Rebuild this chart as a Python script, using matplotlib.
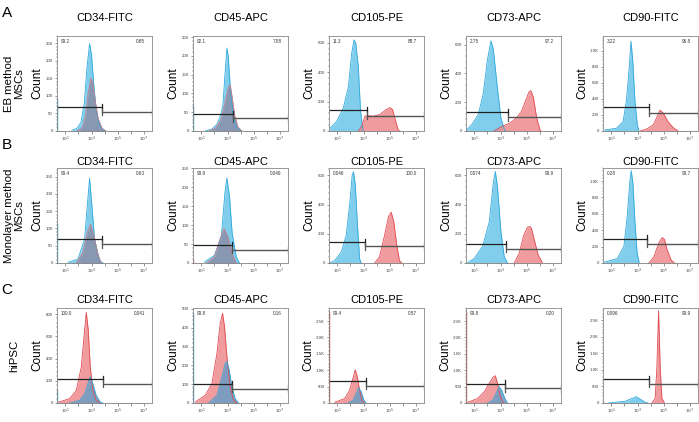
import numpy as np
import matplotlib.pyplot as plt
from matplotlib.ticker import FixedLocator, AutoMinorLocator, LogLocator, NullFormatter

plt.rcParams['font.family'] = ['Liberation Sans', 'DejaVu Sans']

# ---- data (x in log10 units, y in counts) ----
markers = ['CD34-FITC', 'CD45-APC', 'CD105-PE', 'CD73-APC', 'CD90-FITC']
row_names = ['EB method\nMSCs', 'Monolayer method\nMSCs', 'hiPSC']
panel_letters = ['A', 'B', 'C']

# row A - EB method MSCs
blue_x_A = [[1.5, 1.9, 2.2, 2.45, 2.65, 2.85, 3.0, 3.15, 3.35, 3.6, 3.9, 4.1],
            [1.3, 1.8, 2.2, 2.5, 2.65, 2.8, 2.95, 3.05, 3.2, 3.4, 3.6, 3.9, 4.1],
            [0.4, 0.95, 1.46, 1.84, 2.1, 2.27, 2.4, 2.6, 2.77, 2.97],
            [0.4, 0.8, 1.3, 1.68, 2.0, 2.27, 2.45, 2.78, 3.03, 3.3, 3.4],
            [0.5, 1.4, 1.9, 2.15, 2.37, 2.5, 2.63, 2.8, 2.98, 3.1]]
blue_y_A = [[2, 8, 25, 80, 180, 248, 215, 140, 60, 15, 3, 0],
            [0, 5, 18, 45, 70, 150, 221, 200, 120, 50, 15, 3, 0],
            [15, 65, 158, 298, 530, 619, 600, 437, 135, 0],
            [7, 43, 114, 257, 495, 626, 567, 281, 90, 7, 0],
            [13, 34, 119, 374, 800, 1119, 885, 374, 77, 0]]
red_x_A = [[1.9, 2.3, 2.55, 2.75, 2.95, 3.1, 3.3, 3.5, 3.8, 4.1],
           [1.6, 2.1, 2.5, 2.8, 3.05, 3.2, 3.35, 3.55, 3.8, 4.1],
           [2.6, 2.85, 3.1, 3.23, 3.73, 4.24, 4.75, 5.0, 5.2, 5.38, 5.63, 5.75],
           [2.5, 3.1, 3.7, 4.2, 4.6, 4.9, 5.15, 5.3, 5.5, 5.75, 6.0, 6.1],
           [3.2, 3.7, 4.2, 4.5, 4.7, 4.95, 5.3, 5.7, 6.1]]
red_y_A = [[0, 10, 45, 110, 150, 135, 80, 35, 8, 0],
           [0, 8, 30, 75, 115, 123, 90, 40, 10, 0],
           [0, 30, 100, 105, 100, 112, 147, 158, 147, 88, 7, 0],
           [0, 31, 55, 90, 138, 210, 269, 281, 233, 90, 7, 0],
           [0, 26, 77, 183, 260, 226, 119, 43, 0]]

# row B - Monolayer method MSCs
blue_x_B = [[1.2, 1.96, 2.47, 2.67, 2.85, 3.03, 3.23, 3.6, 3.86],
            [1.25, 2.0, 2.52, 2.82, 2.95, 3.15, 3.35, 3.66, 3.91],
            [0.42, 0.8, 1.3, 1.68, 1.94, 2.14, 2.24, 2.37, 2.52, 2.7, 2.82],
            [0.45, 1.0, 1.63, 2.14, 2.44, 2.6, 2.77, 3.03, 3.28, 3.53],
            [0.44, 1.46, 1.96, 2.22, 2.42, 2.52, 2.65, 2.8, 2.97, 3.13]]
blue_y_B = [[2, 11, 69, 164, 245, 164, 69, 7, 0],
            [3, 20, 69, 193, 224, 175, 78, 16, 0],
            [0, 16, 74, 190, 399, 607, 623, 538, 283, 28, 0],
            [0, 31, 114, 281, 543, 626, 519, 210, 43, 0],
            [9, 55, 204, 587, 1013, 1128, 970, 502, 119, 0]]
red_x_B = [[1.84, 2.34, 2.67, 2.92, 3.18, 3.48, 3.73],
           [1.38, 2.0, 2.39, 2.72, 3.03, 3.33, 3.66],
           [3.84, 4.2, 4.6, 4.9, 5.1, 5.3, 5.53, 5.73, 5.91],
           [4.04, 4.42, 4.75, 5.05, 5.23, 5.35, 5.56, 5.86, 6.19],
           [3.86, 4.24, 4.62, 4.87, 5.05, 5.25, 5.56, 5.81]]
red_y_B = [[0, 31, 88, 112, 78, 26, 0],
           [0, 16, 60, 91, 69, 25, 0],
           [0, 39, 190, 318, 348, 283, 121, 16, 0],
           [0, 67, 186, 245, 250, 238, 162, 55, 0],
           [0, 77, 247, 311, 289, 162, 34, 0]]

# row C - hiPSC
blue_x_C = [[1.33, 2.09, 2.47, 2.72, 2.9, 3.1, 3.35, 3.66, 3.86],
            [1.56, 2.19, 2.57, 2.82, 2.95, 3.13, 3.33, 3.58, 3.84],
            [1.81, 2.19, 2.44, 2.62, 2.82, 3.03, 3.2],
            [2.01, 2.39, 2.72, 2.9, 3.08, 3.33, 3.53],
            [0.8, 2.06, 2.57, 2.9, 3.2, 3.58, 3.78]]
blue_y_C = [[0, 24, 84, 174, 235, 174, 69, 9, 0],
            [0, 41, 139, 210, 222, 174, 85, 23, 0],
            [0, 83, 290, 476, 342, 83, 0],
            [0, 83, 344, 500, 396, 135, 0],
            [0, 53, 138, 190, 117, 21, 0]]
red_x_C = [[0.44, 1.33, 1.84, 2.22, 2.47, 2.6, 2.75, 2.9, 3.1, 3.35, 3.73],
           [0.54, 1.3, 1.81, 2.19, 2.44, 2.62, 2.77, 2.95, 3.2, 3.46, 3.71],
           [0.8, 1.56, 1.94, 2.19, 2.37, 2.52, 2.7, 2.87, 3.08],
           [0.49, 1.25, 1.76, 2.14, 2.44, 2.6, 2.77, 2.95, 3.15, 3.28],
           [4.09, 4.34, 4.47, 4.6, 4.72, 4.85, 5.05]]
red_y_C = [[6, 39, 114, 325, 656, 815, 656, 325, 114, 24, 0],
           [5, 41, 103, 263, 423, 477, 406, 246, 85, 14, 0],
           [21, 135, 393, 756, 1015, 807, 393, 83, 0],
           [21, 135, 344, 604, 792, 833, 604, 240, 31, 0],
           [0, 138, 1091, 2786, 1091, 138, 0]]

# pile-up at the left edge of the axis: (colour, height)
edge_A = [('blue', 90), ('blue', 70), (None, 0), (None, 0), (None, 0)]
edge_B = [('blue', 116), ('red', 10), (None, 0), (None, 0), (None, 0)]
edge_C = [('blue', 114), ('blue', 480), ('red', 2800), ('red', 2800), ('blue', 60)]

# gates: (gate position log10, left bar y, right bar y)
gates_A = [(3.81, 68, 54), (3.41, 45, 34), (3.23, 142, 105), (3.53, 131, 95), (3.84, 298, 226)]
gates_B = [(3.81, 69, 54), (3.33, 47, 34), (3.13, 144, 114), (3.43, 131, 95), (3.73, 298, 238)]
gates_C = [(3.86, 217, 175), (3.33, 100, 77), (3.15, 673, 518), (3.35, 590, 445), (3.84, 720, 583)]

pct_A = [('99.2', '0.85'), ('92.1', '7.88'), ('11.3', '88.7'), ('2.75', '97.2'), ('3.22', '96.8')]
pct_B = [('99.4', '0.63'), ('99.9', '0.049'), ('0.046', '100.0'), ('0.074', '99.9'), ('0.28', '99.7')]
pct_C = [('100.0', '0.041'), ('99.8', '0.16'), ('99.4', '0.57'), ('99.8', '0.20'), ('0.096', '99.9')]

ymax_A = [270, 253, 645, 660, 1183]
ymax_B = [275, 250, 650, 650, 1160]
ymax_C = [854, 505, 2900, 2900, 2870]
ystep_A = [50, 50, 200, 200, 200]
ystep_B = [50, 50, 200, 200, 200]
ystep_C = [200, 100, 500, 500, 500]

# ---- styling ----
blue_face, blue_edge = '#72C9EA', '#2FA9DD'
red_face, red_edge = '#EF9093', '#E2494F'
# colour of the overlapping (inner) curve
inner_red_face, inner_red_edge = '#8A93AC', '#C97D8A'
inner_blue_face, inner_blue_edge = '#6F9EC3', '#3AA6D9'
inner_A = ['red', 'red', None, None, None]
inner_B = ['red', 'red', None, None, None]
inner_C = ['blue', 'blue', 'blue', 'blue', None]

W, H = 699, 422
col_left = [57, 193, 329, 466, 603]
row_top = [36, 168, 308]
title_y = [18, 162, 300]
letter_y = [13, 145, 290]
ax_w, ax_h = 95, 95
xlo, xhi = 0.37, 7.6

rows = [
    (blue_x_A, blue_y_A, red_x_A, red_y_A, edge_A, gates_A, pct_A, ymax_A, ystep_A, inner_A),
    (blue_x_B, blue_y_B, red_x_B, red_y_B, edge_B, gates_B, pct_B, ymax_B, ystep_B, inner_B),
    (blue_x_C, blue_y_C, red_x_C, red_y_C, edge_C, gates_C, pct_C, ymax_C, ystep_C, inner_C),
]


def kfmt(v):
    if v >= 1000:
        return '%.1fK' % (v / 1000.)
    return '%d' % v


fig = plt.figure(figsize=(W / 100., H / 100.), dpi=100)

for r, (bx, by, rx, ry, edge, gates, pct, ymax, ystep, inner) in enumerate(rows):
    fig.text(7 / W, 1 - letter_y[r] / H, panel_letters[r], fontsize=11,
             ha='center', va='center')
    fig.text(14 / W, 1 - (row_top[r] + ax_h / 2) / H, row_names[r], fontsize=8.2,
             rotation=90, ha='center', va='center', linespacing=1.05)
    for c in range(5):
        ax = fig.add_axes([col_left[c] / W, 1 - (row_top[r] + ax_h) / H, ax_w / W, ax_h / H])
        fig.text((col_left[c] + ax_w / 2) / W, 1 - title_y[r] / H, markers[c],
                 fontsize=8, ha='center', va='center')

        bxx, rxx = 10 ** np.array(bx[c]), 10 ** np.array(rx[c])
        blue = (bxx, by[c], blue_face, blue_edge)
        red = (rxx, ry[c], red_face, red_edge)
        if inner[c] == 'red':
            order = [blue, (rxx, ry[c], inner_red_face, inner_red_edge)]
        elif inner[c] == 'blue':
            order = [red, (bxx, by[c], inner_blue_face, inner_blue_edge)]
        else:
            order = [blue, red]
        for xx, yy, fc, ec in order:
            ax.fill_between(xx, 0, yy, color=fc, lw=0, alpha=0.9)
            ax.plot(xx, yy, color=ec, lw=0.6)

        ecol, eh = edge[c]
        if ecol:
            ax.vlines(10 ** (xlo + 0.03), 0, eh, color=blue_edge if ecol == 'blue' else red_edge,
                      lw=1.0)

        g, yl, yr = gates[c]
        cap = ymax[c] * 0.035
        ax.plot([10 ** xlo, 10 ** g], [yl, yl], color='#222222', lw=0.9)
        ax.plot([10 ** g, 10 ** g], [yl - cap, yl + cap], color='#222222', lw=0.9)
        ax.plot([10 ** g, 10 ** xhi], [yr, yr], color='#555555', lw=1.0)
        for xe in (10 ** g, 10 ** (xhi - 0.02)):
            ax.plot([xe, xe], [yr - cap, yr + cap], color='#555555', lw=0.9)

        ax.text(0.04, 0.965, pct[c][0], transform=ax.transAxes, fontsize=3.3,
                va='top', ha='left', color='#333333')
        ax.text(0.93, 0.965, pct[c][1], transform=ax.transAxes, fontsize=3.3,
                va='top', ha='right', color='#333333')

        ax.set_xscale('log')
        ax.set_xlim(10 ** xlo, 10 ** xhi)
        ax.set_ylim(0, ymax[c])
        ax.set_xticks([10 ** k for k in range(1, 8)])
        ax.set_xticklabels(['$10^{%d}$' % k if k % 2 else '' for k in range(1, 8)])
        ax.xaxis.set_minor_locator(LogLocator(base=10, subs=np.arange(2, 10)))
        ax.xaxis.set_minor_formatter(NullFormatter())
        yt = np.arange(0, ymax[c] + 1, ystep[c])
        ax.yaxis.set_major_locator(FixedLocator(yt))
        ax.set_yticklabels([kfmt(v) for v in yt])
        ax.yaxis.set_minor_locator(AutoMinorLocator(5))
        ax.tick_params(which='major', labelsize=3.2, length=1.8, width=0.4, pad=1,
                       colors='#444444')
        ax.tick_params(which='minor', length=1.0, width=0.3, colors='#444444')
        for s in ax.spines.values():
            s.set_color('#888888')
            s.set_linewidth(0.6)
        ax.set_ylabel('Count', fontsize=8.5, labelpad=1.5)

fig.savefig('out.png', dpi=100)
